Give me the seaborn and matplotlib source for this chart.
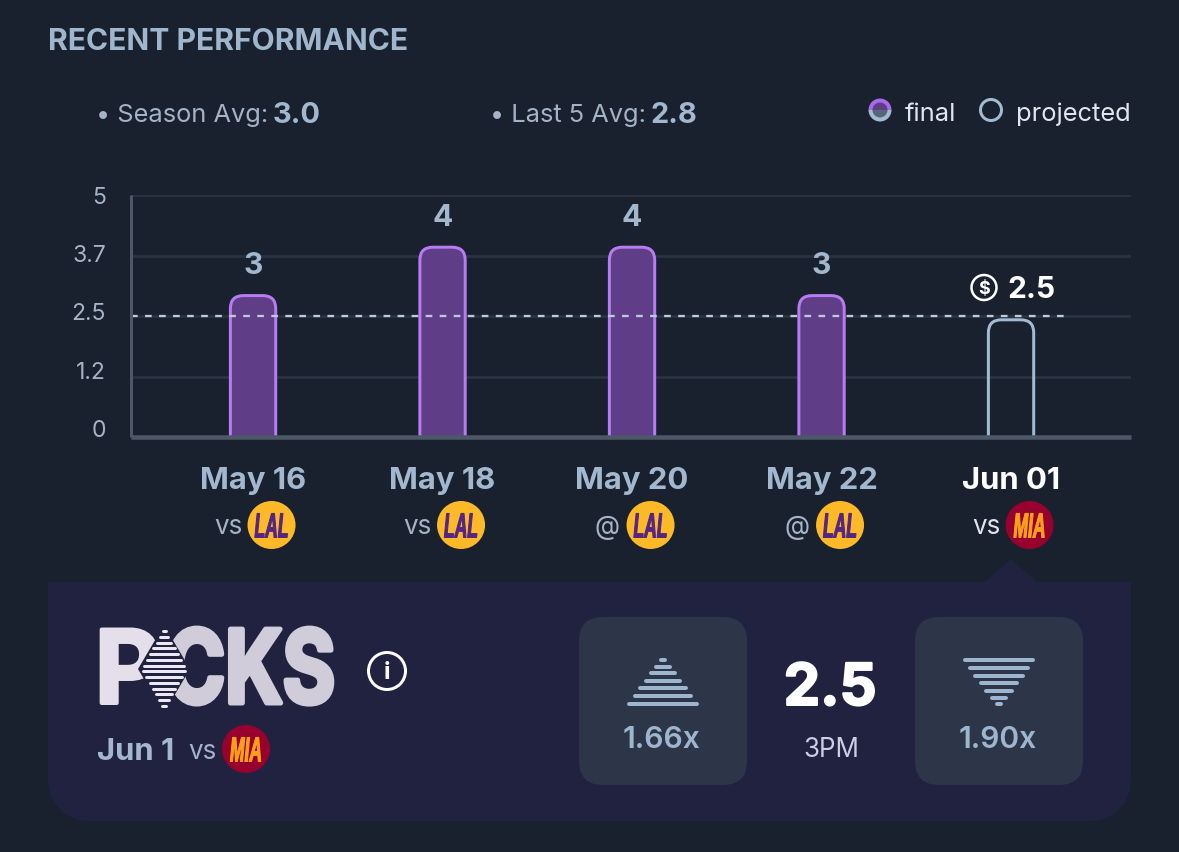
import matplotlib
matplotlib.use("Agg")
import matplotlib.pyplot as plt
import matplotlib.patheffects as pe
import seaborn as sns
import pandas as pd
from matplotlib.patches import FancyBboxPatch, Circle, Polygon, Wedge, PathPatch
from matplotlib.path import Path
from matplotlib.transforms import ScaledTranslation, Affine2D

# ---------- data ----------
dates = ["May 16", "May 18", "May 20", "May 22", "Jun 01"]
values = [3, 4, 4, 3, 2.5]
value_labels = ["3", "4", "4", "3", "2.5"]
status = ["final", "final", "final", "final", "projected"]
venues = ["vs", "vs", "@", "@", "vs"]
opponents = ["LAL", "LAL", "LAL", "LAL", "MIA"]
y_ticks = [0, 1.25, 2.5, 3.75, 5]
y_tick_labels = ["0", "1.2", "2.5", "3.7", "5"]
line_value = 2.5

BG = "#19202e"
CARD = "#20223f"
BTN = "#2d3549"
GRID = "#2a3341"
AXISC = "#4c5868"
TXT = "#a3b8cf"
TICKC = "#a4b4c6"
FILL = "#5f3d87"
EDGE = "#b77cf0"
PROJ = "#a3bbd1"
FONT = "Inter"

W, H = 1179, 853
sns.set_theme(style="white")
plt.rcParams["font.family"] = [FONT, "DejaVu Sans"]
fig = plt.figure(figsize=(W / 100, H / 100), dpi=100, facecolor=BG)

# ---------- pixel overlay for the card and decorations ----------
ov = fig.add_axes([0, 0, 1, 1], zorder=0)
ov.set_xlim(0, W)
ov.set_ylim(H, 0)
ov.axis("off")


def px(size):
    return size * 72 / 100


class TallGlyphs(pe.AbstractPathEffect):
    """Stretch glyphs vertically about the baseline and thicken them with a stroke."""

    def __init__(self, sy, stroke=0.0):
        super().__init__()
        self.sy = sy
        self.stroke = stroke

    def draw_path(self, renderer, gc, tpath, affine, rgbFace=None):
        gc0 = renderer.new_gc()
        gc0.copy_properties(gc)
        if self.stroke:
            gc0.set_linewidth(px(self.stroke))
            gc0.set_foreground(rgbFace)
        renderer.draw_path(gc0, tpath, Affine2D().scale(1, self.sy) + affine, rgbFace)
        gc0.restore()


def bolder(width, color):
    return [pe.withStroke(linewidth=px(width), foreground=color)]


# card with square top and round bottom
r = 40
k = 0.55 * r
verts = [(48, 583), (1131, 583), (1131, 822 - r), (1131, 822 - r + k), (1131 - r + k, 822), (1131 - r, 822),
         (48 + r, 822), (48 + r - k, 822), (48, 822 - r + k), (48, 822 - r), (48, 583)]
codes = [Path.MOVETO, Path.LINETO, Path.LINETO, Path.CURVE4, Path.CURVE4, Path.CURVE4,
         Path.LINETO, Path.CURVE4, Path.CURVE4, Path.CURVE4, Path.CLOSEPOLY]
ov.add_patch(PathPatch(Path(verts, codes), fc=CARD, ec="none"))
ov.add_patch(Polygon([(985, 583), (1011, 560), (1037, 583)], fc=CARD, ec="none"))

for x0 in (579, 915):
    ov.add_patch(FancyBboxPatch((x0, 618), 168, 168, boxstyle="round,pad=0,rounding_size=24", fc=BTN, ec="none"))


def stripes(cx, rows):
    for y, hw in rows:
        ov.plot([cx - hw, cx + hw], [y, y], color="#9db5cf", lw=px(4), solid_capstyle="round")


stripes(663, [(660.7, 2), (667.5, 7), (674, 12), (681.7, 17), (689, 23), (697, 28), (705, 34)])
stripes(999, [(660.7, 34), (669, 29), (676.6, 24), (684.4, 18), (691.5, 13), (698.6, 7), (705, 2)])

ov.text(661, 740, "1.66x", color="#9db5cf", fontsize=px(30), fontweight="semibold", ha="center", va="center")
ov.text(998, 740, "1.90x", color="#9db5cf", fontsize=px(30), fontweight="semibold", ha="center", va="center")
ov.text(830, 691, "2.5", color="white", fontsize=px(58), fontweight="bold", ha="center", va="center",
        path_effects=bolder(2, "white"))
ov.text(831, 750, "3PM", color="#c9d0e6", fontsize=px(26), ha="center", va="center")

# logo
ov.text(95, 704, "P", color="#e4dfea", fontsize=px(101), fontweight="bold", ha="left", va="baseline",
        path_effects=bolder(4, "#e4dfea"))
ov.text(166, 704, "CKS", color="#d0ccd9", fontsize=px(80), fontweight="bold", ha="left", va="baseline",
        path_effects=[TallGlyphs(1.27, 5)])
ov.add_patch(Polygon([(164, 626), (190, 670), (164, 714), (138, 670)], fc=CARD, ec="none", zorder=5))
for i in range(14):
    y = 632 + i * 5.75
    hw = max(1.5, 22 * (1 - abs(y - 670) / 40))
    ov.plot([164 - hw, 164 + hw], [y, y], color="#ece6f5", lw=px(3), solid_capstyle="round", zorder=6)

# info icon
ov.add_patch(Circle((387, 672), 18.5, fc="none", ec="white", lw=px(3)))
ov.text(387, 673, "i", color="white", fontsize=px(24), fontweight="bold", ha="center", va="center")

ov.text(97, 752, "Jun 1", color=TXT, fontsize=px(31), fontweight="bold", ha="left", va="center")
ov.text(188, 752, "vs", color=TICKC, fontsize=px(26), ha="left", va="center")


def badge(cx, cy, team):
    fc, tc = ("#fdb927", "#552583") if team == "LAL" else ("#98002e", "#f9a01b")
    ov.add_patch(Circle((cx, cy), 24, fc=fc, ec="none"))
    ov.text(cx, cy + 12.5, team, color=tc, fontsize=px(17.5), fontweight="bold", fontstyle="italic",
            family=["Liberation Sans", "DejaVu Sans"], ha="center", va="baseline",
            path_effects=[TallGlyphs(2.0, 1.0)])


badge(246, 750, "MIA")

# header
ov.text(48, 42, "RECENT PERFORMANCE", color="#a0b6cd", fontsize=px(30), fontweight="bold", ha="left", va="center")
ov.text(95.5, 115, "• Season Avg:", color=TICKC, fontsize=px(25.4), ha="left", va="center")
ov.text(273, 115, "3.0", color=TXT, fontsize=px(29), fontweight="bold", ha="left", va="center")
ov.text(489.5, 115, "• Last 5 Avg:", color=TICKC, fontsize=px(25.4), ha="left", va="center")
ov.text(651, 115, "2.8", color=TXT, fontsize=px(29), fontweight="bold", ha="left", va="center")

# legend
ov.add_patch(Wedge((880, 111), 11.5, 180, 360, fc="#a56ae6", ec="none"))
ov.add_patch(Wedge((880, 111), 11.5, 0, 180, fc=PROJ, ec="none"))
ov.add_patch(Wedge((880, 111), 7.5, 180, 360, fc=FILL, ec="none"))
ov.add_patch(Wedge((880, 111), 7.5, 0, 180, fc="#566577", ec="none"))
ov.add_patch(Circle((991, 111), 10.5, fc=BG, ec=PROJ, lw=px(3)))
ov.text(905, 114, "final", color="#dfe6ee", fontsize=px(25.5), ha="left", va="center")
ov.text(1016, 114, "projected", color="#dfe6ee", fontsize=px(25.5), ha="left", va="center")

# ---------- main chart ----------
ax = fig.add_axes([131 / W, 1 - 438.3 / H, 1000 / W, (438.3 - 196.3) / H], zorder=1)
ax.patch.set_alpha(0)

df = pd.DataFrame({"date": dates, "value": values, "status": status})
sns.barplot(data=df, x="date", y="value", hue="status", order=dates, dodge=False, saturation=1,
            palette={"final": FILL, "projected": BG}, width=0.255, legend=False, ax=ax, zorder=3)

ax.set_xlim(-0.644, 4.633)
ax.set_ylim(0, 5)
ax.set_xlabel("")
ax.set_ylabel("")
ax.set_yticks(y_ticks)
ax.set_yticklabels(y_tick_labels)
ax.grid(axis="y", color=GRID, lw=px(2.7), zorder=0)
ax.grid(axis="x", visible=False)
ax.set_axisbelow(True)
for s in ("top", "right"):
    ax.spines[s].set_visible(False)
for s, w in (("left", 3), ("bottom", 4.5)):
    ax.spines[s].set_color(AXISC)
    ax.spines[s].set_linewidth(px(w))
    ax.spines[s].set_zorder(6)
    ax.spines[s].set_capstyle("butt")

ax.tick_params(axis="y", length=0, pad=px(25), labelsize=px(23), labelcolor=TICKC)
ax.tick_params(axis="x", length=0, pad=px(29), labelsize=px(31), labelcolor=TXT)
for lab, d in zip(ax.get_xticklabels(), dates):
    lab.set_fontweight("bold")
    if d == dates[-1]:
        lab.set_color("white")
# labels sit on an even grid a little tighter than the gridlines
for lab, dy in zip(ax.get_yticklabels(), [10, 7.5, 5.5, 3.5, 1]):
    lab.set_transform(lab.get_transform() + ScaledTranslation(0, dy / 100, fig.dpi_scale_trans))

# rounded tops: the seaborn bars are clipped to a rounded outline with an inset stroke
bbox = ax.get_window_extent()
ux = (ax.get_xlim()[1] - ax.get_xlim()[0]) / bbox.width
uy = (ax.get_ylim()[1] - ax.get_ylim()[0]) / bbox.height
bars = sorted([b for b in ax.patches if b.get_height() > 0], key=lambda b: b.get_x())
for b, st in zip(bars, status):
    x, w, h = b.get_x(), b.get_width(), b.get_height()
    x0, x1 = x + 1.5 * ux, x + w - 1.5 * ux
    top = h - 3.5 * uy
    outline = FancyBboxPatch((x0, -1), x1 - x0, top + 1,
                             boxstyle=f"round,pad=0,rounding_size={13 * ux}",
                             mutation_aspect=uy / ux, fc="none",
                             ec=EDGE if st == "final" else PROJ, lw=px(3), zorder=4)
    ax.add_patch(outline)
    b.set_linewidth(0)
    b.set_clip_path(outline)
    if st == "projected":
        b.set_facecolor("none")

ax.plot([ax.get_xlim()[0], 4.317], [line_value, line_value], color="#bccbd9", lw=px(2.3),
        linestyle=(0, (2.9, 3.2)), zorder=5)

for i, (v, t, st) in enumerate(zip(values, value_labels, status)):
    if st == "final":
        ax.annotate(t, (i, v), xytext=(0, px(27)), textcoords="offset points", color=TXT,
                    fontsize=px(30), fontweight="bold", ha="center", va="center")
    else:
        ax.annotate(t, (i, v), xytext=(px(20), px(27)), textcoords="offset points", color="white",
                    fontsize=px(30), fontweight="bold", ha="center", va="center")

# venue + opponent row under each date
centers = ax.transData.transform([(i, 0) for i in range(len(dates))])
for (cx, _), venue, team, st in zip(centers, venues, opponents, status):
    ov.text(cx - 25, 527, venue, color="#dfe6ee" if st == "projected" else TICKC, fontsize=px(26),
            ha="center", va="center")
    badge(cx + 18.5, 526, team)

# dollar icon
ov.add_patch(Circle((984, 288.5), 12.5, fc="none", ec="white", lw=px(2.5)))
ov.text(984, 289, "$", color="white", fontsize=px(18), fontweight="bold", ha="center", va="center")

fig.savefig("out.png", dpi=100, facecolor=BG)
